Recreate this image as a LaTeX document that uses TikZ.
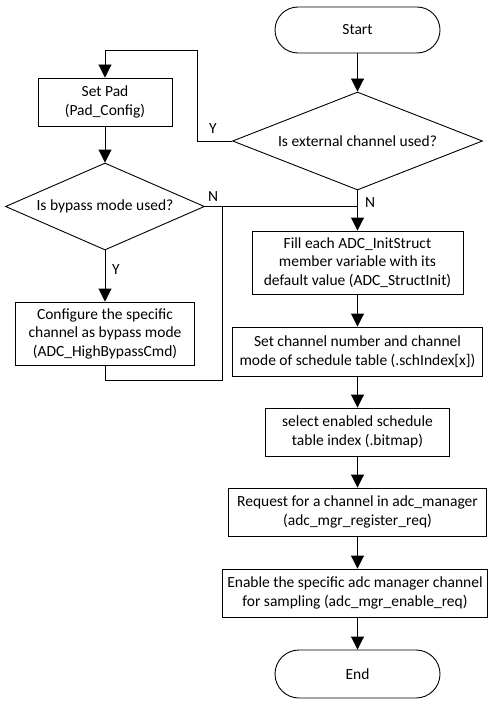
\documentclass[tikz,border=0pt]{standalone}
\usepackage{fontspec}
\setmainfont{Carlito}
\usetikzlibrary{arrows.meta,shapes.geometric}
\begin{document}
\begin{tikzpicture}[x=1pt,y=-1pt,
  every node/.style={font=\fontsize{15.5}{18.5}\selectfont, text=black},
  box/.style={draw, line width=0.9pt, rectangle, inner sep=0pt, align=center},
  term/.style={draw, line width=0.9pt, rectangle, rounded corners=23pt, inner sep=0pt, minimum width=165pt, minimum height=46pt},
  dec/.style={draw, line width=0.9pt, diamond, inner sep=0pt},
  flow/.style={line width=0.9pt, -{Triangle[width=13pt,length=13pt]}},
  plain/.style={line width=0.9pt},
  lbl/.style={inner sep=0pt}]
\useasboundingbox[fill=white] (0,0) rectangle (498,706);

\node[term] (start) at (357.5,30) {Start};
\node[dec, minimum width=250pt, minimum height=98pt, aspect=2.55] (ext) at (357.5,141) {Is external channel used?};
\node[box, minimum width=134pt, minimum height=48pt] (pad) at (105,102) {Set Pad\\(Pad\_Config)};
\node[dec, minimum width=199pt, minimum height=87pt, aspect=2.29] (byp) at (105,206.5) {Is bypass mode used?};
\node[box, minimum width=179pt, minimum height=63pt] (cfg) at (105,333.5) {Configure the specific\\channel as bypass mode\\(ADC\_HighBypassCmd)};
\node[box, minimum width=211pt, minimum height=63pt] (fill) at (357.5,262.5) {Fill each ADC\_InitStruct\\member variable with its\\default value (ADC\_StructInit)};
\node[box, minimum width=250pt, minimum height=49pt] (sch) at (357.5,351.5) {Set channel number and channel\\mode of schedule table (.schIndex[x])};
\node[box, minimum width=184pt, minimum height=48pt] (sel) at (357.5,432) {select enabled schedule\\table index (.bitmap)};
\node[box, minimum width=258pt, minimum height=48pt] (req) at (357.5,512) {Request for a channel in adc\_manager\\(adc\_mgr\_register\_req)};
\node[box, minimum width=265pt, minimum height=48pt] (ena) at (355,593) {Enable the specific adc manager channel\\for sampling (adc\_mgr\_enable\_req)};
\node[term, minimum height=48pt, rounded corners=24pt] (end) at (357.5,674) {End};

\coordinate (j1) at (357.5,206.5);
\coordinate (ya) at (197,141);
\coordinate (yb) at (197,50);
\coordinate (yc) at (105,50);
\coordinate (ra) at (105,380);
\coordinate (rb) at (222,380);
\coordinate (rc) at (222,206.5);

\draw[flow] (start) -- (ext);
\draw[flow] (ext.west) -- (ya) -- (yb) -- (yc) -- (pad);
\draw[flow] (pad) -- (byp);
\draw[flow] (byp) -- (cfg);
\draw[plain] (byp.east) -- (j1);
\draw[plain] (cfg.south) -- (ra) -- (rb) -- (rc);
\draw[flow] (ext.south) -- (fill);
\draw[flow] (fill) -- (sch);
\draw[flow] (sch) -- (sel);
\draw[flow] (sel) -- (req);
\draw[flow] (req.south) -- (req.south |- ena.north);
\draw[flow] (req.south |- ena.south) -- (end);

\node[lbl] (ly) at (213,129) {Y};
\node[lbl] (ln1) at (213,197) {N};
\node[lbl] (ln2) at (370,203) {N};
\node[lbl] (ly2) at (116,270) {Y};
\end{tikzpicture}
\end{document}
